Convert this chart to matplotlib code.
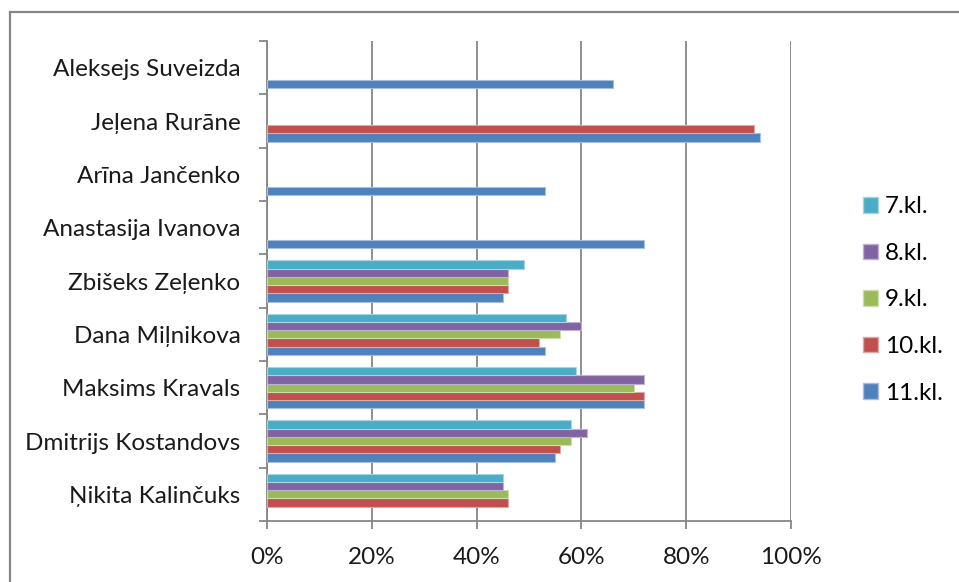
import numpy as np
import matplotlib
matplotlib.use("Agg")
import matplotlib.pyplot as plt
from matplotlib.patches import Patch
from matplotlib.lines import Line2D

plt.rcParams['font.family'] = ['Lato', 'DejaVu Sans']

# Categories bottom -> top
names = ["Ņikita Kalinčuks", "Dmitrijs Kostandovs", "Maksims Kravals",
         "Dana Miļnikova", "Zbišeks Zeļenko", "Anastasija Ivanova",
         "Arīna Jančenko", "Jeļena Rurāne", "Aleksejs Suveizda"]
nan = np.nan
kl11 = [nan, 55, 72, 53, 45, 72, 53, 94, 66]
kl10 = [46, 56, 72, 52, 46, nan, nan, 93, nan]
kl9 = [46, 58, 70, 56, 46, nan, nan, nan, nan]
kl8 = [45, 61, 72, 60, 46, nan, nan, nan, nan]
kl7 = [45, 58, 59, 57, 49, nan, nan, nan, nan]
series_labels = ["11.kl.", "10.kl.", "9.kl.", "8.kl.", "7.kl."]
series_values = [kl11, kl10, kl9, kl8, kl7]
colors = ["#4F81BD", "#C0504D", "#9BBB59", "#8064A2", "#4BACC6"]
edges = ["#A7C0DE", "#DFA8A6", "#CDDDAC", "#BFB1D0", "#A5D5E2"]
xticks = [0, 20, 40, 60, 80, 100]
xticklabels = ["0%", "20%", "40%", "60%", "80%", "100%"]

W, H = 959, 582
fig = plt.figure(figsize=(W / 100, H / 100), dpi=100)
ax = fig.add_axes([267 / W, (H - 521) / H, (791 - 267) / W, (521 - 41) / H])

grid_c = "#868686"
fs = 17.5
y = np.arange(len(names))
h = 0.154
for i, (vals, c, ec, lab) in enumerate(zip(series_values, colors, edges, series_labels)):
    ax.barh(y + (i - 2) * h, np.array(vals, dtype=float), height=h, color=c,
            edgecolor=ec, linewidth=0.8, label=lab, zorder=3)

ax.set_xlim(0, 100)
ax.set_ylim(-0.5, len(names) - 0.5)
ax.set_xticks(xticks)
ax.set_xticklabels(xticklabels)
ax.set_yticks(y)
ax.set_yticklabels(names)
ax.set_yticks(np.arange(len(names) + 1) - 0.5, minor=True)
ax.tick_params(axis='y', which='major', length=0, pad=19, labelsize=fs, labelcolor="#1a1a1a")
ax.tick_params(axis='y', which='minor', length=6, width=1.3, color=grid_c)
ax.tick_params(axis='x', which='major', length=6, width=1.3, color=grid_c,
               pad=13, labelsize=fs, labelcolor="#1a1a1a")
ax.grid(axis='x', color=grid_c, linewidth=1.3, zorder=0)
ax.set_axisbelow(True)
for s in ["top", "right"]:
    ax.spines[s].set_visible(False)
for s in ["left", "bottom"]:
    ax.spines[s].set_color(grid_c)
    ax.spines[s].set_linewidth(1.3)

# legend (7.kl. at top)
handles = [Patch(facecolor=colors[i], edgecolor=edges[i], label=series_labels[i])
           for i in range(4, -1, -1)]
fig.legend(handles=handles, loc='center left', bbox_to_anchor=(863 / W, (H - 300) / H),
           frameon=False, fontsize=fs, handlelength=0.6, handleheight=0.6,
           handletextpad=0.3, labelspacing=1.05, borderpad=0, borderaxespad=0)

# chart border (top and left visible)
fig.add_artist(Line2D([10 / W, 10 / W], [0, (H - 12) / H], color=grid_c, linewidth=1.6,
                      transform=fig.transFigure))
fig.add_artist(Line2D([10 / W, 1], [(H - 12) / H, (H - 12) / H], color=grid_c, linewidth=1.6,
                      transform=fig.transFigure))

fig.savefig("out.png", dpi=100)
